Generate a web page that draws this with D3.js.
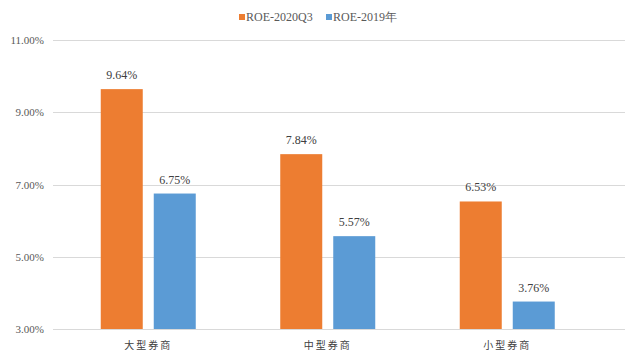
<!DOCTYPE html>
<html lang="zh">
<head>
<meta charset="UTF-8">
<title>ROE</title>
<style>
    body { margin: 0; background: #fff; }
</style>
</head>
<body>
<div id="chart"></div>
<script src="https://d3js.org/d3.v7.min.js"></script>
<script>
    // data
    var categories = ["大型券商", "中型券商", "小型券商"];
    var seriesNames = ["ROE-2020Q3", "ROE-2019年"];
    var roe2020Q3 = [9.64, 7.84, 6.53];
    var roe2019 = [6.75, 5.57, 3.76];
    var yTicks = [3, 5, 7, 9, 11];
    var colors = ["#ED7D31", "#5B9BD5"];

    var serif = "'Liberation Serif', 'DejaVu Serif', 'Times New Roman', serif";
    var width = 633, height = 363;

    var svg = d3.select("#chart").append("svg")
        .attr("width", width)
        .attr("height", height);

    // scales
    var y = d3.scaleLinear().domain([3, 11]).range([329, 40]);
    var x0 = d3.scaleBand().domain(categories).range([58.5, 597]);
    var x1 = d3.scaleBand().domain(seriesNames).range([-47.5, 47.5]).paddingInner(11 / 53);

    // gridlines
    svg.append("g")
      .selectAll("line")
      .data(yTicks)
      .enter().append("line")
        .attr("x1", 53).attr("x2", 625)
        .attr("y1", function(d) { return Math.round(y(d)) + 0.5; })
        .attr("y2", function(d) { return Math.round(y(d)) + 0.5; })
        .style("stroke", "#d9d9d9");

    // y labels
    svg.append("g")
      .selectAll("text")
      .data(yTicks)
      .enter().append("text")
        .attr("x", 44)
        .attr("y", function(d) { return y(d) + 4; })
        .attr("text-anchor", "end")
        .attr("font-family", serif)
        .attr("font-size", 11)
        .attr("fill", "#595959")
        .text(function(d) { return d.toFixed(2) + "%"; });

    var rows = categories.map(function(c, i) {
        return { cat: c, values: [roe2020Q3[i], roe2019[i]] };
    });

    var group = svg.append("g")
      .selectAll("g")
      .data(rows)
      .enter().append("g")
        .attr("transform", function(d) { return "translate(" + (x0(d.cat) + x0.bandwidth() / 2) + ",0)"; });

    var bars = group.selectAll("g")
      .data(function(d) { return d.values.map(function(v, j) { return { s: seriesNames[j], v: v, j: j }; }); })
      .enter().append("g");

    bars.append("rect")
        .attr("x", function(d) { return x1(d.s); })
        .attr("width", x1.bandwidth())
        .attr("y", function(d) { return y(d.v); })
        .attr("height", function(d) { return y(3) - y(d.v); })
        .style("fill", function(d) { return colors[d.j]; });

    bars.append("text")
        .attr("x", function(d) { return x1(d.s) + x1.bandwidth() / 2; })
        .attr("y", function(d) { return y(d.v) - 10; })
        .attr("text-anchor", "middle")
        .attr("font-family", serif)
        .attr("font-size", 12)
        .attr("fill", "#404040")
        .text(function(d) { return d.v.toFixed(2) + "%"; });

    // category labels
    svg.append("g")
      .selectAll("text")
      .data(categories)
      .enter().append("text")
        .attr("x", function(d) { return x0(d) + x0.bandwidth() / 2; })
        .attr("y", 349)
        .attr("text-anchor", "middle")
        .attr("font-family", "'Noto Sans CJK SC', sans-serif")
        .attr("font-size", 10)
        .style("letter-spacing", "2px")
        .attr("fill", "#404040")
        .text(function(d) { return d; });

    // legend
    var legendX = [239, 326];
    var legend = svg.append("g")
      .selectAll("g")
      .data(seriesNames)
      .enter().append("g")
        .attr("transform", function(d, i) { return "translate(" + legendX[i] + ",14)"; });

    legend.append("rect")
        .attr("width", 6).attr("height", 6)
        .style("fill", function(d, i) { return colors[i]; });

    legend.append("text")
        .attr("x", 7)
        .attr("y", 7)
        .attr("font-family", serif)
        .attr("font-size", 12)
        .attr("fill", "#595959")
        .text(function(d) { return d; });
</script>
</body>
</html>
